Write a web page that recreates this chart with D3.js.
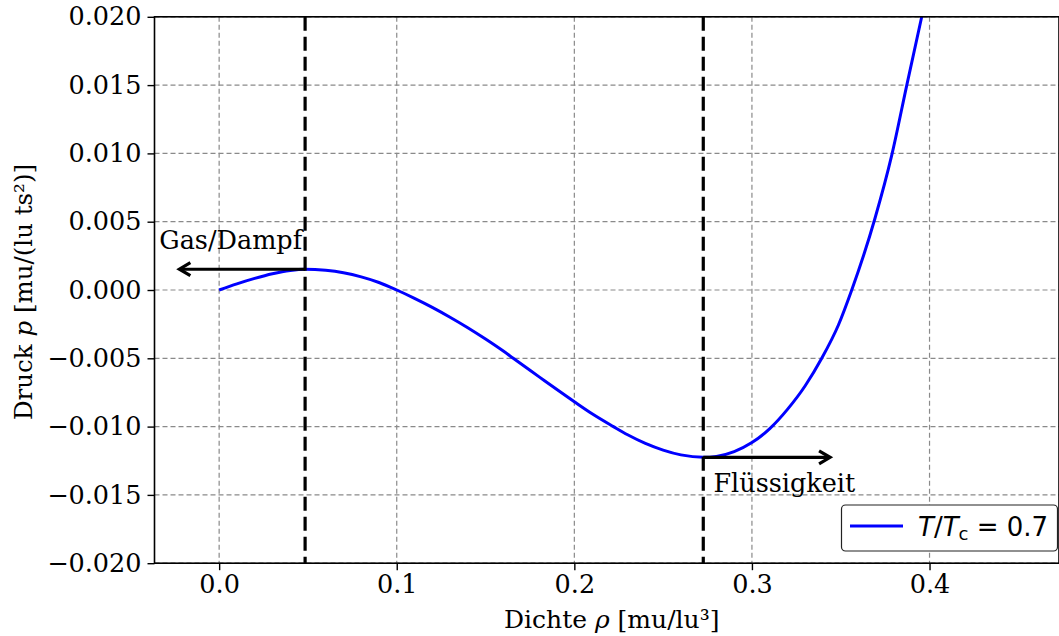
<!DOCTYPE html>
<html>
<head>
<meta charset="utf-8">
<script src="https://cdn.jsdelivr.net/npm/d3@7"></script>
<style>
body { margin: 0; background: #fff; }
svg { display: block; }
</style>
</head>
<body>
<svg id="chart" width="1059" height="636"></svg>
<script>
// ---- data ----
const rho = [0.000, 0.010, 0.020, 0.030, 0.040, 0.0484, 0.060, 0.070, 0.080, 0.090,
  0.100, 0.110, 0.120, 0.130, 0.140, 0.150, 0.160, 0.1656, 0.180, 0.190,
  0.200, 0.210, 0.222, 0.230, 0.240, 0.250, 0.260, 0.2726, 0.280, 0.290,
  0.300, 0.3102, 0.320, 0.330, 0.3393, 0.3487, 0.3562, 0.3693, 0.3787, 0.3872, 0.3956];
const pressure = [0.0000, 0.00045, 0.00085, 0.00119, 0.00143, 0.00152, 0.00144, 0.00126, 0.00096, 0.00055,
  0.0000, -0.00061, -0.00127, -0.00199, -0.00276, -0.00359, -0.00447, -0.00500, -0.00634, -0.00727,
  -0.00818, -0.00906, -0.01000, -0.01060, -0.01123, -0.01172, -0.01207, -0.01225, -0.01218, -0.01183,
  -0.01117, -0.01013, -0.00874, -0.00701, -0.00500, -0.00256, 0.0000, 0.00525, 0.00985, 0.01500, 0.02000];
const xTicks = [0.0, 0.1, 0.2, 0.3, 0.4];
const yTicks = [-0.020, -0.015, -0.010, -0.005, 0.000, 0.005, 0.010, 0.015, 0.020];
const xDomain = [-0.0364, 0.4729];
const yDomain = [-0.020, 0.020];
const markerRho = [0.0484, 0.2726];          // spinodal densities (dashed lines)
const markerP = [0.00152, -0.01225];         // pressure at the markers
const arrowTipRho = [-0.0224, 0.344];        // arrow ends
const labelTexts = ["Gas/Dampf", "Flüssigkeit"];
const labelRho = [-0.0337, 0.2783];
const labelP = [0.00298, -0.01477];
const legendLabel = "0.7";

// ---- layout ----
const L = 154.5, R = 1059, T = 16.8, B = 563.2;
const svg = d3.select("#chart");
const x = d3.scaleLinear().domain(xDomain).range([L, R]);
const y = d3.scaleLinear().domain(yDomain).range([B, T]);
const serif = "DejaVu Serif";

svg.append("defs").append("clipPath").attr("id", "clip")
  .append("rect").attr("x", L).attr("y", T).attr("width", R - L).attr("height", B - T);

// grid
const grid = svg.append("g").attr("stroke", "#8a8a8a").attr("stroke-width", 1.2)
  .attr("stroke-dasharray", "5,3");
grid.selectAll(".gx").data(xTicks).join("line")
  .attr("x1", d => x(d)).attr("x2", d => x(d)).attr("y1", T).attr("y2", B);
grid.selectAll(".gy").data(yTicks).join("line")
  .attr("y1", d => y(d)).attr("y2", d => y(d)).attr("x1", L).attr("x2", R);

// curve
const pts = rho.map((r, i) => [r, pressure[i]]);
const line = d3.line().x(d => x(d[0])).y(d => y(d[1])).curve(d3.curveMonotoneX);
svg.append("path").datum(pts).attr("clip-path", "url(#clip)")
  .attr("d", line).attr("fill", "none").attr("stroke", "#0000ff").attr("stroke-width", 3);

// dashed marker lines
svg.selectAll(".mk").data(markerRho).join("line")
  .attr("x1", d => x(d)).attr("x2", d => x(d)).attr("y1", T).attr("y2", B)
  .attr("stroke", "#000").attr("stroke-width", 3.2).attr("stroke-dasharray", "14,6");

// arrows
markerRho.forEach((r, i) => {
  const x0 = x(r), x1 = x(arrowTipRho[i]), yy = y(markerP[i]);
  const dir = Math.sign(x1 - x0);
  svg.append("line").attr("x1", x0).attr("x2", x1 - dir * 1).attr("y1", yy).attr("y2", yy)
    .attr("stroke", "#000").attr("stroke-width", 3.2);
  svg.append("path")
    .attr("d", `M${x1 - dir * 11},${yy - 6.5}L${x1},${yy}L${x1 - dir * 11},${yy + 6.5}`)
    .attr("fill", "none").attr("stroke", "#000").attr("stroke-width", 3.2)
    .attr("stroke-linejoin", "miter").attr("stroke-linecap", "butt");
});

// annotation texts
svg.selectAll(".lab").data(labelTexts).join("text")
  .attr("x", (d, i) => x(labelRho[i])).attr("y", (d, i) => y(labelP[i]))
  .attr("font-family", serif).attr("font-size", 25.5).attr("fill", "#000")
  .text(d => d);

// spines
svg.append("rect").attr("x", L).attr("y", T).attr("width", R - L).attr("height", B - T)
  .attr("fill", "none").attr("stroke", "#000").attr("stroke-width", 1.6);

// axes
const fmtY = d => d3.format(".3f")(d).replace("-", "\u2212");
const xAxis = d3.axisBottom(x).tickValues(xTicks).tickFormat(d3.format(".1f")).tickSize(7).tickPadding(5);
const yAxis = d3.axisLeft(y).tickValues(yTicks).tickFormat(fmtY).tickSize(7).tickPadding(6);
const gx = svg.append("g").attr("transform", `translate(0,${B})`).call(xAxis);
const gy = svg.append("g").attr("transform", `translate(${L},0)`).call(yAxis);
[gx, gy].forEach(g => {
  g.select(".domain").remove();
  g.selectAll("line").attr("stroke", "#000").attr("stroke-width", 1.4);
  g.selectAll("text").attr("font-family", serif).attr("font-size", 25.5).attr("fill", "#000");
});

// axis labels
const xl = svg.append("text").attr("x", (L + R) / 2 + 5).attr("y", 628)
  .attr("text-anchor", "middle").attr("font-family", serif).attr("font-size", 25);
xl.append("tspan").text("Dichte ");
xl.append("tspan").attr("font-style", "italic").text("\u03C1");
xl.append("tspan").text(" [mu/lu\u00B3]");

const yl = svg.append("text").attr("transform", `translate(32,${(T + B) / 2 + 2}) rotate(-90)`)
  .attr("text-anchor", "middle").attr("font-family", serif).attr("font-size", 24.5);
yl.append("tspan").text("Druck ");
yl.append("tspan").attr("font-style", "italic").text("p");
yl.append("tspan").text(" [mu/(lu ts\u00B2)]");

// legend
const lg = svg.append("g");
lg.append("rect").attr("x", 841.5).attr("y", 505).attr("width", 216).attr("height", 46)
  .attr("rx", 4).attr("fill", "#fff").attr("stroke", "#222").attr("stroke-width", 1.2);
lg.append("line").attr("x1", 850).attr("x2", 903).attr("y1", 526).attr("y2", 526)
  .attr("stroke", "#0000ff").attr("stroke-width", 3);
const lt = lg.append("text").attr("x", 918).attr("y", 535.5)
  .attr("font-family", "DejaVu Sans").attr("font-size", 26);
lt.append("tspan").attr("font-style", "italic").text("T");
lt.append("tspan").text("/");
lt.append("tspan").attr("font-style", "italic").text("T");
lt.append("tspan").attr("font-size", 18).attr("dy", 4).text("c");
lt.append("tspan").attr("dy", -4).text(" = " + legendLabel);
</script>
</body>
</html>
